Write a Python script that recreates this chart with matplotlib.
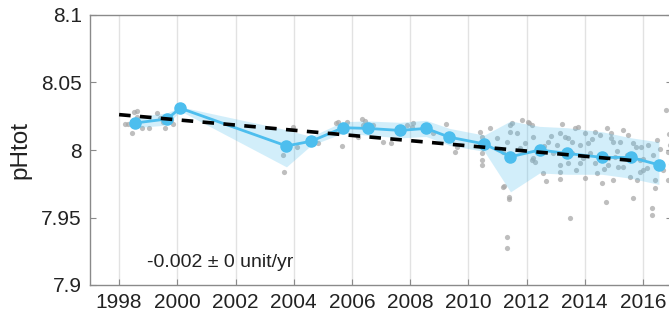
import matplotlib
matplotlib.use("Agg")
import matplotlib.pyplot as plt

plt.rcParams['font.family'] = ['Liberation Sans', 'DejaVu Sans']

# Annual means (blue line)
mean_years = [1998.55, 1999.65, 2000.1, 2003.75, 2004.6, 2005.7, 2006.55, 2007.65,
              2008.55, 2009.35, 2010.55, 2011.45, 2012.45, 2013.4, 2014.6, 2015.6, 2016.55]
mean_values = [8.020, 8.023, 8.031, 8.003, 8.0065, 8.0165, 8.016, 8.0145,
               8.016, 8.0095, 8.0045, 7.995, 8.000, 7.9975, 7.9945, 7.9945, 7.989]
band_upper = [8.0245, 8.0275, 8.0320, 8.0150, 8.0100, 8.0210, 8.0215, 8.0205,
              8.0220, 8.0160, 8.0110, 8.0215, 8.0175, 8.0165, 8.0135, 8.0090, 8.0060]
band_lower = [8.0165, 8.0185, 8.0290, 7.9875, 8.0035, 8.0125, 8.0110, 8.0090,
              8.0100, 8.0035, 7.9990, 7.9690, 7.9830, 7.9820, 7.9820, 7.9790, 7.9745]

# Linear trend
trend_years = [1998.0, 2015.65]
trend_values = [8.0262, 7.9922]

# Individual observations (grey dots)
obs_years = [1998.2, 1998.31, 1998.43, 1998.62, 1998.51, 1998.77, 1999.03, 1999.29,
             1999.52, 1999.57, 1999.8, 1999.86, 1998.6, 1999.4,
             2003.98, 2003.64, 2003.66, 2004.1, 2004.84, 2004.7,
             2005.53, 2005.82, 2005.67, 2006.22, 2005.47,
             2006.33, 2006.45, 2006.39, 2006.73, 2007.08, 2007.36, 2007.88, 2008.05,
             2008.11, 2008.79, 2009.25, 2009.54, 2009.6,
             2010.4, 2010.46, 2010.46, 2010.46, 2010.46, 2010.46, 2010.51, 2010.74,
             2010.97, 2011.2, 2011.32, 2011.32,
             2011.43, 2011.43, 2011.49, 2011.32, 2011.2, 2011.41, 2011.41, 2011.22,
             2011.83, 2012.06, 2012.18, 2012.23, 2012.18, 2012.29, 2012.57, 2012.67,
             2012.75, 2013.21, 2013.15, 2013.32, 2013.43, 2013.55, 2013.15, 2013.15,
             2013.15, 2013.43, 2013.49, 2013.66, 2013.78, 2013.84, 2013.84, 2014.01,
             2014.01, 2014.12, 2014.35, 2014.41, 2014.52, 2014.58, 2014.75, 2014.73,
             2014.92, 2014.98, 2014.98, 2015.15, 2015.21, 2015.32, 2015.49, 2015.55,
             2015.65, 2015.67, 2015.78, 2015.8, 2015.9, 2016.01, 2016.18, 2016.3,
             2016.3, 2016.35, 2016.41, 2016.41, 2016.47, 2016.81, 2016.87, 2016.86,
             2011.66, 2011.77, 2011.95, 2012.23, 2012.45, 2012.92, 2013.32, 2013.55,
             2013.95, 2014.18, 2014.35, 2014.52, 2014.81, 2015.04, 2015.32, 2015.44,
             2015.9, 2016.13, 2016.53, 2016.7, 2012.09, 2012.85, 2013.05, 2014.25,
             2014.65, 2015.1, 2015.95, 2016.6, 2012.6, 2013.7, 2014.9, 2016.0,
             2016.9, 2016.95, 2016.92]
obs_values = [8.0193, 8.0193, 8.0124, 8.0289, 8.028, 8.0161, 8.0165, 8.0272,
              8.021, 8.0161, 8.0222, 8.019, 8.0245, 8.0235,
              8.0173, 7.9963, 7.984, 8.0025, 8.005, 8.008,
              8.0205, 8.0205, 8.0032, 8.0099, 8.0197,
              8.0227, 8.0217, 8.0185, 8.0185, 8.0062, 8.005, 8.0185, 8.0173,
              8.0198, 8.0124, 8.0193, 7.9987, 8.0025,
              8.0136, 8.0099, 8.005, 7.9975, 7.9926, 7.9889, 8.0012, 8.016,
              8.0087, 7.9728, 7.9358, 7.9272,
              8.0185, 8.0136, 8.0197, 8.0062, 7.9987, 7.9654, 7.9635, 7.9733,
              8.0222, 8.021, 8.0185, 8.0099, 7.9926, 7.9914, 7.9832, 7.9773,
              8.0062, 8.0193, 8.0124, 8.0094, 8.0087, 8.0062, 7.9889, 7.984,
              7.9783, 7.9901, 7.9494, 8.016, 8.0173, 8.0037, 7.9901, 7.979,
              8.0124, 8.005, 8.0136, 7.9827, 8.0111, 7.9753, 8.016, 7.9617,
              8.0124, 8.0062, 7.9778, 7.9877, 8.0062, 8.0148, 8.0111, 7.9802,
              7.9642, 8.005, 8.0025, 7.9778, 7.984, 7.9852, 8.0037, 7.9568,
              7.9519, 7.9963, 7.9778, 7.9716, 8.0074, 8.0296, 7.9778, 7.9988,
              8.0124, 8.0012, 8.005, 7.9938, 8.0, 7.9975, 7.9988, 7.9975,
              7.9938, 7.9975, 7.9901, 7.9963, 7.9889, 7.995, 7.9877, 7.9963,
              7.9926, 7.9864, 7.9889, 7.9852, 8.0198, 8.0105, 8.004, 8.008,
              7.986, 7.999, 8.002, 8.001, 8.003, 7.985, 8.009, 7.993,
              8.012, 7.990, 8.004]

trend_text = "-0.002 \u00b1 0 unit/yr"

blue = '#4DBEEE'

fig = plt.figure(figsize=(6.69, 3.23), dpi=100)
ax = fig.add_axes([90 / 669, 38 / 323, 582 / 669, 270 / 323])

ax.scatter(obs_years, obs_values, s=14, color='#a8a8a8', alpha=0.75, linewidths=0, zorder=2)
ax.fill_between(mean_years, band_lower, band_upper, color=blue, alpha=0.25, linewidth=0, zorder=3)
ax.plot(mean_years, mean_values, '-o', color=blue, lw=2, markersize=8, zorder=4)
ax.plot(trend_years, trend_values, color='black', lw=2.6, dashes=(3.2, 2.6), zorder=5)

ax.text(1998.95, 7.917, trend_text, fontsize=14, ha='left', va='center',
        color='#222222')

ax.set_xlim(1997, 2017)
ax.set_ylim(7.9, 8.1)
ax.set_xticks(list(range(1998, 2017, 2)))
ax.set_yticks([7.9, 7.95, 8.0, 8.05, 8.1])
ax.set_yticklabels(['7.9', '7.95', '8', '8.05', '8.1'])
ax.set_ylabel('pHtot', fontsize=17.5, color='#222222', labelpad=7)

ax.grid(axis='x', color='#e2e2e2', lw=1)
ax.set_axisbelow(True)
for s in ax.spines.values():
    s.set_color('#8a8a8a')
    s.set_linewidth(1)
ax.tick_params(direction='in', length=4, color='#8a8a8a', labelsize=15,
               labelcolor='#222222', right=True, top=False)
ax.tick_params(axis='y', pad=6)
ax.tick_params(axis='x', pad=6)

fig.savefig('out.png', dpi=100)
